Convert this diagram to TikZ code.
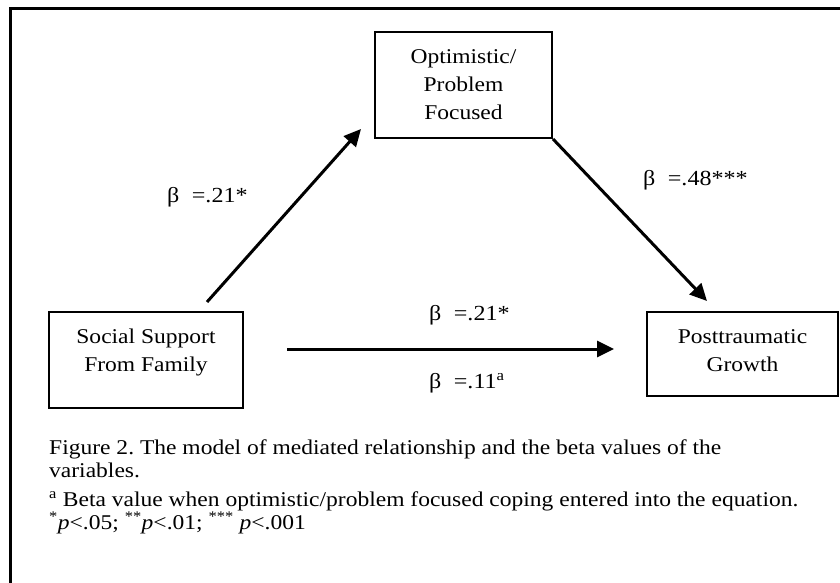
\documentclass[tikz,border=0pt]{standalone}
\usepackage{fontspec}
\setmainfont{Liberation Serif}[FakeStretch=1.12]
\usetikzlibrary{arrows.meta}

\tikzset{
  box/.style={draw, line width=2pt, inner sep=0pt},
  boxtext/.style={align=center, inner sep=0pt, font=\fontsize{21}{28}\selectfont},
  beta/.style={anchor=base west, inner sep=0pt, font=\fontsize{21.5}{28}\selectfont},
  note/.style={anchor=base west, inner sep=0pt, font=\fontsize{21}{26}\selectfont\frenchspacing},
  effect/.style={line width=3pt, -{Triangle[length=17pt,width=16pt]}},
}

\begin{document}
\begin{tikzpicture}[x=1pt, y=-1pt]
\useasboundingbox (0,0) rectangle (840,583);
\draw[line width=3pt] (10,583) -- (10,9) -- (840,9); % frame

\node[box, minimum width=177pt, minimum height=106pt] (opt) at (463.5,85) {}; % Mediator
\node[boxtext] (opttxt) at (463.5,85) {Optimistic/\\Problem\\Focused};
\node[box, minimum width=194pt, minimum height=96pt] (social) at (146,360) {}; % Predictor
\node[boxtext] (socialtxt) at (146,352) {Social Support\\From Family};
\node[box, minimum width=191pt, minimum height=84pt] (post) at (742.5,354) {}; % Outcome
\node[boxtext] (posttxt) at (742.5,351) {Posttraumatic\\Growth};

\coordinate (hstart) at (287,349);
\coordinate (hend) at (614,349);
\draw[effect] ([shift={(61,-9)}]social.north) -- ([shift={(-13,-10)}]opt.south west); % a path
\draw[effect] (opt.south east) -- ([shift={(61,-10)}]post.north west); % b path
\draw[effect] (hstart) -- (hend); % c path

\node[beta] (ba) at (167,202) {β\hspace{0.3em} =.21*};
\node[beta] (bb) at (643,185) {β\hspace{0.3em} =.48***};
\node[beta] (bc) at (429,320) {β\hspace{0.3em} =.21*};
\node[beta] (bcp) at (429,388) {β\hspace{0.3em} =.11\textsuperscript{a}};

\node[note] (cap1) at (49,454) {Figure 2. The model of mediated relationship and the beta values of the};
\node[note] (cap2) at (49,477) {variables.};
\node[note] (cap3) at (49,506) {\textsuperscript{a} Beta value when optimistic/problem focused coping entered into the equation.};
\node[note] (cap4) at (49,529) {\textsuperscript{*}\textit{p}<.05; \textsuperscript{**}\textit{p}<.01; \textsuperscript{***} \textit{p}<.001};
\end{tikzpicture}
\end{document}
